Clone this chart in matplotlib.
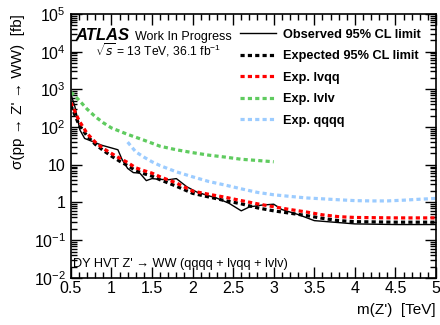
import matplotlib
matplotlib.use('Agg')
import matplotlib.pyplot as plt
from matplotlib.ticker import FixedLocator, FixedFormatter, MultipleLocator, LogLocator, NullFormatter

plt.rcParams['font.family'] = ['Liberation Sans', 'DejaVu Sans']
plt.rcParams['mathtext.fontset'] = 'custom'
plt.rcParams['mathtext.rm'] = 'Liberation Sans'

# expected limits, lvqq + combined
mass_exp = [0.5, 0.6, 0.7, 0.8, 0.9, 1.0, 1.1, 1.2, 1.3, 1.4, 1.5, 1.6, 1.8, 2.0, 2.2, 2.4,
            2.6, 2.8, 3.0, 3.2, 3.4, 3.6, 3.8, 4.0, 4.5, 5.0]
exp_lvqq = [450, 150, 68, 40, 27, 20, 15, 11.5, 8.3, 7.0, 6.0, 4.8, 3.3, 2.0, 1.65, 1.38,
            1.12, 0.92, 0.77, 0.65, 0.56, 0.47, 0.42, 0.40, 0.39, 0.39]
exp_comb = [380, 115, 58, 35, 24, 17, 12.5, 9.5, 7.0, 5.8, 5.0, 4.0, 2.7, 1.75, 1.4, 1.12,
            0.92, 0.72, 0.60, 0.52, 0.45, 0.38, 0.33, 0.31, 0.30, 0.30]

# observed
mass_obs = [0.5, 0.55, 0.59, 0.61, 0.67, 0.76, 0.88, 1.0, 1.08, 1.13, 1.2, 1.27, 1.35, 1.43,
            1.5, 1.6, 1.7, 1.8, 1.93, 2.05, 2.2, 2.3, 2.45, 2.6, 2.7, 2.85, 3.0, 3.1, 3.3,
            3.5, 4.0, 4.5, 5.0]
obs = [750, 350, 140, 85, 50, 42, 33, 28, 25, 14, 8.0, 6.2, 6.0, 3.8,
       4.3, 4.1, 4.0, 4.3, 2.6, 1.9, 1.5, 1.3, 0.95, 0.6, 0.76, 0.85, 0.9, 0.65, 0.48,
       0.33, 0.27, 0.26, 0.26]

# lvlv
mass_lvlv = [0.5, 0.6, 0.7, 0.8, 0.9, 1.0, 1.1, 1.2, 1.4, 1.6, 1.8, 2.0, 2.2, 2.4, 2.6, 2.8, 3.0]
exp_lvlv = [850, 520, 300, 190, 130, 95, 78, 64, 45, 31, 25, 21, 18, 16, 14, 13, 12]

# qqqq
mass_qqqq = [1.2, 1.3, 1.4, 1.5, 1.6, 1.8, 2.0, 2.2, 2.4, 2.6, 2.8, 3.0, 3.2, 3.4, 3.6,
             3.8, 4.0, 4.2, 4.4, 4.6, 4.8, 5.0]
exp_qqqq = [40, 22, 16, 12, 9.5, 6.5, 4.8, 3.6, 2.9, 2.3, 1.85, 1.6, 1.45, 1.32, 1.25,
            1.18, 1.12, 1.10, 1.10, 1.15, 1.22, 1.28]

ytick_vals = [1e-2, 1e-1, 1, 10, 1e2, 1e3, 1e4, 1e5]
ytick_labels = ['10$^{-2}$', '10$^{-1}$', '1', '10', '10$^{2}$', '10$^{3}$', '10$^{4}$', '10$^{5}$']
xtick_vals = [0.5, 1, 1.5, 2, 2.5, 3, 3.5, 4, 4.5, 5]
xtick_labels = ['0.5', '1', '1.5', '2', '2.5', '3', '3.5', '4', '4.5', '5']

fig = plt.figure(figsize=(4.4, 3.25), dpi=100)
ax = fig.add_axes([0.161, 0.145, 0.830, 0.812])

dsh = (1.3, 1.0)
ax.plot(mass_obs, obs, color='black', lw=1.0, label='Observed 95% CL limit')
ax.plot(mass_exp, exp_comb, color='black', lw=2.3, dashes=dsh, label='Expected 95% CL limit')
ax.plot(mass_exp, exp_lvqq, color='#ff0000', lw=2.3, dashes=dsh, label='Exp. lvqq')
ax.plot(mass_lvlv, exp_lvlv, color='#5fcb5f', lw=2.3, dashes=dsh, label='Exp. lvlv')
ax.plot(mass_qqqq, exp_qqqq, color='#9cccff', lw=2.3, dashes=dsh, label='Exp. qqqq')

ax.set_yscale('log')
ax.set_xlim(0.5, 5)
ax.set_ylim(1e-2, 1e5)

ax.set_xticks(xtick_vals)
ax.set_xticklabels(xtick_labels)
ax.xaxis.set_minor_locator(MultipleLocator(0.1))
ax.yaxis.set_major_locator(FixedLocator(ytick_vals))
ax.yaxis.set_major_formatter(FixedFormatter(ytick_labels))
ax.yaxis.set_minor_locator(LogLocator(base=10, subs=range(2, 10), numticks=20))
ax.yaxis.set_minor_formatter(NullFormatter())
ax.tick_params(which='both', direction='in', top=True, right=True, labelsize=11.5, width=1.0)
ax.tick_params(which='major', length=8)
ax.tick_params(which='minor', length=4)
ax.tick_params(axis='x', pad=2)
for s in ax.spines.values():
    s.set_linewidth(1.2)

ax.set_xlabel("m(Z')  [TeV]", fontsize=11, loc='right', labelpad=5)
ax.set_ylabel("σ(pp → Z' → WW)  [fb]", fontsize=11, loc='top', labelpad=6)

ax.text(0.011, 0.9015, 'ATLAS', transform=ax.transAxes, fontsize=12, fontweight='bold',
        fontstyle='italic', va='baseline')
ax.text(0.175, 0.9015, 'Work In Progress', transform=ax.transAxes, fontsize=9, va='baseline')
ax.text(0.066, 0.841, r'$\sqrt{s}$ = 13 TeV, 36.1 fb$^{-1}$', transform=ax.transAxes,
        fontsize=8.7, va='baseline')
ax.text(0.005, 0.042, "DY HVT Z' → WW (qqqq + lvqq + lvlv)", transform=ax.transAxes,
        fontsize=9.2, va='baseline')

leg = ax.legend(loc='upper left', bbox_to_anchor=(0.449, 0.964), frameon=False,
                prop={'weight': 'bold', 'size': 9.2}, handlelength=2.8, handletextpad=0.6,
                labelspacing=0.75, borderaxespad=0.0)

fig.savefig('out.png', dpi=100)
